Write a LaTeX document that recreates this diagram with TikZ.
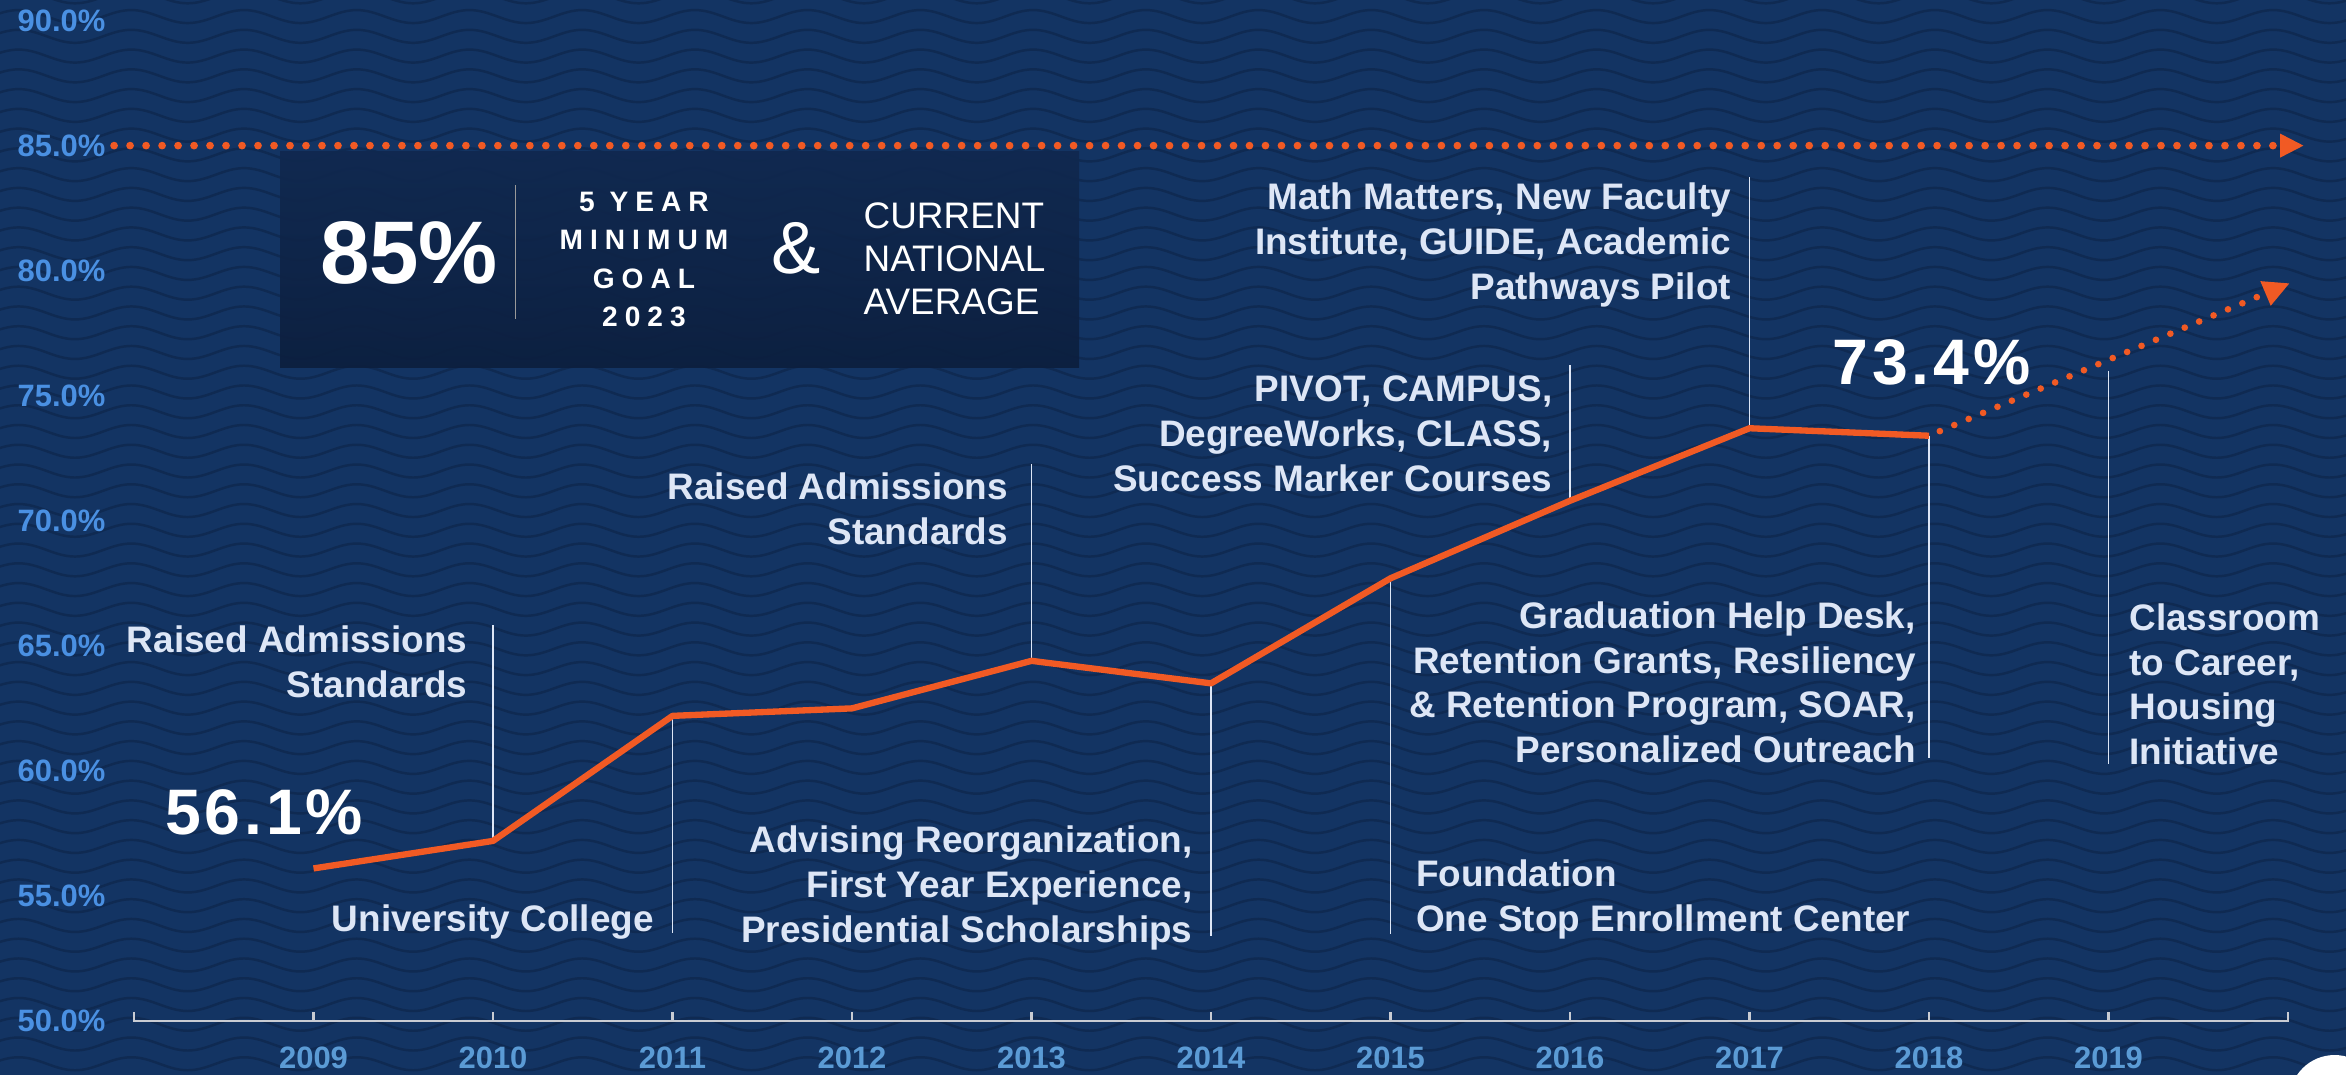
\documentclass[tikz,border=0pt]{standalone}
\usepackage{fontspec}
\setmainfont{Liberation Sans}
\usetikzlibrary{arrows.meta}
\definecolor{navy}{HTML}{133463}
\definecolor{wavecol}{HTML}{0F2A52}
\definecolor{boxtop}{HTML}{10284F}
\definecolor{boxbot}{HTML}{0C1F3E}
\definecolor{goalorange}{HTML}{F15A24}
\definecolor{notecol}{HTML}{DDE6F6}
\definecolor{pctcol}{HTML}{4A90E2}
\definecolor{yearcol}{HTML}{5B9BD5}
\definecolor{axiscol}{HTML}{C9CCD3}

\begin{document}
\begin{tikzpicture}[x=1.795cm, y=0.2501cm, inner sep=0pt,
  note/.style={font=\fontsize{10.5}{12.7}\selectfont\bfseries, text=notecol},
  marker/.style={draw=notecol, line width=0.45pt},
  big/.style={font=\fontsize{18.3}{20}\selectfont\bfseries\addfontfeatures{LetterSpace=6}, text=white, anchor=base},
  pct/.style={font=\fontsize{8.8}{10}\selectfont\bfseries, text=pctcol, anchor=east},
  year/.style={font=\fontsize{8.8}{10}\selectfont\bfseries, text=yearcol},
  goal/.style={goalorange, line width=2.2pt, line cap=round, dash pattern=on 0pt off 4.55pt},
  trend/.style={goalorange, line width=1.9pt, line cap=round, dash pattern=on 0pt off 4.45pt, dash phase=1.1pt}]
\useasboundingbox (7.2535,47.841) rectangle (20.3231,90.824);
\fill[navy] (7.2535,47.841) rectangle (20.3231,90.824);
\begin{scope}
\clip (7.2535,47.841) rectangle (20.3231,90.824);
\foreach \r in {0,...,55}
  \draw[wavecol, line width=0.7pt] (7.2,{47.5+0.79*\r})
    \foreach \k in {1,...,21} {sin ++(0.157,0.26) cos ++(0.157,-0.26) sin ++(0.157,-0.26) cos ++(0.157,0.26)};
\end{scope}

\shade[top color=boxtop, bottom color=boxbot, opacity=0.92] (8.8134,76.12) rectangle (13.2646,84.746);
\node[font=\fontsize{25.3}{28}\selectfont\bfseries, text=white, anchor=base] (goalpct) at (9.532,79.47) {85\%};
\draw[color=gray!80, line width=0.4pt] (10.1265,78.07) -- (10.1265,83.41);
\node[font=\fontsize{8}{10.9}\selectfont\bfseries\addfontfeatures{LetterSpace=25}, text=white, align=center, anchor=north] (goaltxt) at (10.841,83.16) {5 YEAR\\MINIMUM\\GOAL\\2023};
\node[font=\fontsize{21}{24}\selectfont, text=white] (amp) at (11.688,80.91) {\&};
\node[font=\fontsize{10.5}{12.3}\selectfont, text=white, align=left, anchor=north west] (natl) at (12.061,82.76) {CURRENT\\NATIONAL\\AVERAGE};

\coordinate (g0) at (7.889,85);
\coordinate (g1) at (20.089,85);
\draw[goal, -{Triangle[length=6.8pt,width=6.3pt]}] (g0) -- (g1);

\foreach \v in {50,55,...,90}
  \node[pct] (l\v) at (7.844,\v) {\v.0\%};
\draw[axiscol, line width=0.6pt] (8,50.36) -- (8,50) -- (20,50) -- (20,50.36);
\foreach \x in {9,...,19}
  \draw[axiscol, line width=0.6pt] (\x,50) -- (\x,50.36);
\foreach \x in {2009,...,2019}
  \node[year] (y\x) at (\x-2000,48.52) {\x};

\foreach \yr/\pc in {2009/56.1, 2010/57.2, 2011/62.2, 2012/62.5, 2013/64.4, 2014/63.5, 2015/67.7, 2016/70.8, 2017/73.7, 2018/73.4}
  \coordinate (p\yr) at (\yr-2000,\pc);
\coordinate (p2020) at (20.01,79.5);

\coordinate (e2010) at (10,65.83);
\coordinate (e2011) at (11,53.52);
\coordinate (e2013) at (13,72.27);
\coordinate (e2014) at (14,53.40);
\coordinate (e2015) at (15,53.46);
\coordinate (e2016) at (16,76.23);
\coordinate (e2017) at (17,83.76);
\coordinate (e2018) at (18,60.50);
\coordinate (t2019) at (19,75.99);
\coordinate (e2019) at (19,60.28);
\foreach \yr in {2010,2011,2013,2014,2015,2016,2017,2018}
  \draw[marker] (p\yr) -- (e\yr);
\draw[marker] (t2019) -- (e2019);

\draw[goalorange, line width=1.8pt, line join=round] (p2009) -- (p2010) -- (p2011) -- (p2012) -- (p2013) -- (p2014) -- (p2015) -- (p2016) -- (p2017) -- (p2018);
\draw[trend, -{Triangle[length=7.5pt,width=7pt]}] (p2018) -- (p2020);

\node[big] (v2009) at (8.724,57.44) {56.1\%};
\node[big] (v2018) at (18.013,75.43) {73.4\%};

\node[note, align=right, anchor=north east] (n2010) at (9.861,65.83) {Raised Admissions\\Standards};
\node[note, align=right, anchor=north east] (n2011) at (10.90,54.68) {University College};
\node[note, align=right, anchor=north east] (n2013) at (12.873,71.93) {Raised Admissions\\Standards};
\node[note, align=right, anchor=north east] (n2014) at (13.90,57.82) {Advising Reorganization,\\First Year Experience,\\Presidential Scholarships};
\node[note, align=left, anchor=north west] (n2015) at (15.139,56.46) {Foundation\\One Stop Enrollment Center};
\node[note, align=right, anchor=north east] (n2016) at (15.905,75.81) {PIVOT, CAMPUS,\\DegreeWorks, CLASS,\\Success Marker Courses};
\node[note, align=right, anchor=north east] (n2017) at (16.90,83.53) {Math Matters, New Faculty\\Institute, GUIDE, Academic\\Pathways Pilot};
\node[note, align=right, anchor=north east] (n2018) at (17.93,66.79) {Graduation Help Desk,\\Retention Grants, Resiliency\\\& Retention Program, SOAR,\\Personalized Outreach};
\node[note, align=left, anchor=north west] (n2019) at (19.113,66.71) {Classroom\\to Career,\\Housing\\Initiative};

\fill[white] (20.259,46.84) circle [radius=4.5mm];
\end{tikzpicture}
\end{document}
